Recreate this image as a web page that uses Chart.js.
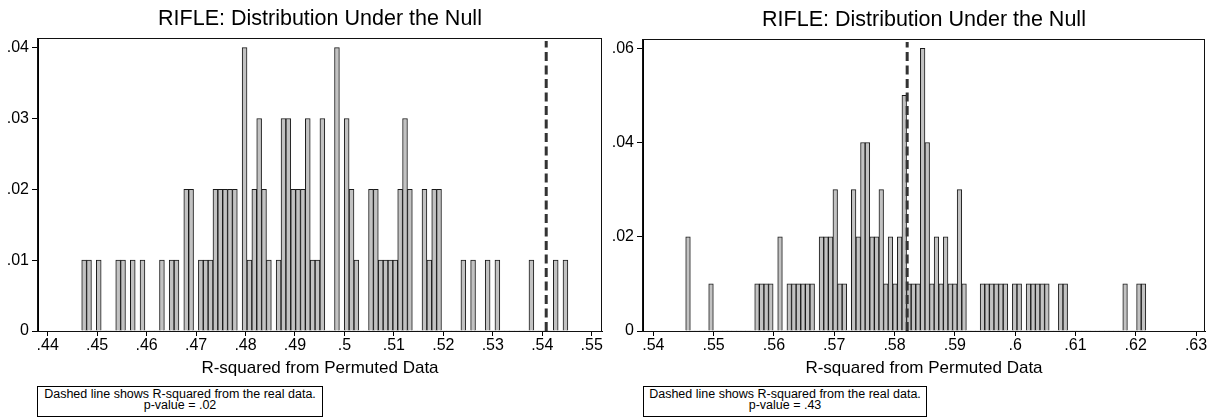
<!DOCTYPE html>
<html>
<head>
<meta charset="utf-8">
<script src="https://cdn.jsdelivr.net/npm/chart.js@4.4.1/dist/chart.umd.min.js"></script>
<style>
  body { margin: 0; background: #fff; width: 1212px; height: 417px; overflow: hidden; position: relative;
         font-family: Arial, "Liberation Sans", Helvetica, sans-serif; }
  canvas { position: absolute; top: 0; }
  #histA { left: 0; }
  #histB { left: 606px; }
  .note { position: absolute; top: 386px; height: 31px; box-sizing: border-box; border: 1px solid #000;
          padding-top: 2px; font-size: 12.5px; line-height: 10.5px; text-align: center; color: #000; }
</style>
</head>
<body>
<canvas id="histA" width="606" height="385"></canvas>
<canvas id="histB" width="606" height="385"></canvas>
<div class="note" id="noteA" style="left:37px;width:286px"></div>
<div class="note" id="noteB" style="left:643px;width:284px"></div>
<script>
const chartTitle = 'RIFLE: Distribution Under the Null';
const xTitle = 'R-squared from Permuted Data';
const noteText = 'Dashed line shows R-squared from the real data.';

// left panel: 100 bins, fraction of permutations per bin
const binStartA = 0.44688;
const binWidthA = 0.000983;
const fracA = [
  .01, .01, 0, .01, 0, 0, 0, .01, .01, 0,
  .01, 0, .01, 0, 0, 0, .01, 0, .01, .01,
  0, .02, .02, 0, .01, .01, .01, .02, .02, .02,
  .02, .02, 0, .04, .01, .02, .03, .02, .01, 0,
  .01, .03, .03, .02, .02, .02, .03, .01, .01, .03,
  0, 0, .04, 0, .03, .02, .01, 0, 0, .02,
  .02, .01, .01, .01, .01, .02, .03, .02, 0, 0,
  .02, .01, .02, .02, 0, 0, 0, 0, .01, 0,
  .01, 0, 0, .01, 0, .01, 0, 0, 0, 0,
  0, 0, .01, 0, 0, 0, 0, .01, 0, .01
];
const realA = 0.5408;
const pValueA = '.02';
const xTicksA = [.44, .45, .46, .47, .48, .49, .50, .51, .52, .53, .54, .55];
const xLabelsA = ['.44', '.45', '.46', '.47', '.48', '.49', '.5', '.51', '.52', '.53', '.54', '.55'];
const yTicksA = [0, .01, .02, .03, .04];
const yLabelsA = ['0', '.01', '.02', '.03', '.04'];

// right panel
const binStartB = 0.545373;
const binWidthB = 0.000763;
const fracB = [
  .02, 0, 0, 0, 0, .01, 0, 0, 0, 0,
  0, 0, 0, 0, 0, .01, .01, .01, .01, 0,
  .02, 0, .01, .01, .01, .01, .01, .01, 0, .02,
  .02, .02, .03, .01, .01, 0, .03, .02, .04, .04,
  .02, .02, .03, .01, .02, .01, .02, .05, .01, .01,
  .01, .06, .04, .01, .02, .01, .02, .01, .01, .03,
  .01, 0, 0, 0, .01, .01, .01, .01, .01, .01,
  0, .01, .01, 0, .01, .01, .01, .01, .01, 0,
  0, .01, .01, 0, 0, 0, 0, 0, 0, 0,
  0, 0, 0, 0, 0, .01, 0, 0, .01, .01
];
const realB = 0.5821;
const pValueB = '.43';
const xTicksB = [.54, .55, .56, .57, .58, .59, .60, .61, .62, .63];
const xLabelsB = ['.54', '.55', '.56', '.57', '.58', '.59', '.6', '.61', '.62', '.63'];
const yTicksB = [0, .02, .04, .06];
const yLabelsB = ['0', '.02', '.04', '.06'];

Chart.defaults.font.family = 'Arial, "Liberation Sans", Helvetica, sans-serif';
Chart.defaults.color = '#000';
Chart.defaults.animation = false;

// put the title over the plot region, not the whole canvas
const centerTitle = {
  id: 'centerTitle',
  afterLayout(chart) {
    const t = chart.titleBlock;
    if (!t) return;
    t.left = chart.chartArea.left;
    t.right = chart.chartArea.right;
    t.width = t.right - t.left;
  }
};

// dashed line at the real R-squared + plot region outline
const overlay = {
  id: 'overlay',
  afterDatasetsDraw(chart, args, opts) {
    const { ctx, chartArea: a, scales } = chart;
    const x = scales.x.getPixelForValue(opts.real);
    ctx.save();
    ctx.strokeStyle = '#333';
    ctx.lineWidth = 3;
    ctx.setLineDash([9, 4.5]);
    ctx.beginPath();
    ctx.moveTo(x, a.bottom);
    ctx.lineTo(x, a.top + 3);
    ctx.stroke();
    ctx.setLineDash([]);
    ctx.lineWidth = 1;
    ctx.strokeStyle = '#111';
    ctx.strokeRect(Math.round(a.left) - 0.5, Math.round(a.top) + 0.5,
                   Math.round(a.right - a.left), Math.round(a.bottom - a.top));
    ctx.restore();
  }
};

function makeHist(id, p) {
  const points = p.frac.map((v, i) => ({ x: p.start + p.width * (i + 0.5), y: v }));
  return new Chart(document.getElementById(id), {
    type: 'bar',
    data: {
      datasets: [{
        data: points,
        backgroundColor: '#c2c2c2',
        borderColor: '#1a1a1a',
        borderWidth: c => (c.raw && c.raw.y > 0 ? 1 : 0),
        barPercentage: 1,
        categoryPercentage: 1
      }]
    },
    options: {
      responsive: false,
      layout: { padding: { left: 0, right: p.padRight, top: 0, bottom: 0 } },
      plugins: {
        legend: { display: false },
        tooltip: { enabled: false },
        title: {
          display: true,
          text: chartTitle,
          font: { size: 21.5, weight: 'normal' },
          padding: p.titlePad
        },
        overlay: { real: p.real }
      },
      scales: {
        x: {
          type: 'linear',
          offset: false,
          min: p.xMin,
          max: p.xMax,
          afterFit: s => { s.height = 54; },
          afterBuildTicks: s => { s.ticks = p.xTicks.map(v => ({ value: v })); },
          grid: { display: true, drawOnChartArea: false, drawTicks: true, tickLength: 5, color: '#000', offset: false },
          border: { display: true, color: '#000', width: 1 },
          ticks: {
            autoSkip: false, maxRotation: 0, padding: 0,
            font: { size: 16 },
            callback: (v, i) => p.xLabels[i]
          },
          title: { display: true, text: xTitle, font: { size: 17 }, padding: { top: 0, bottom: 6.3 } }
        },
        y: {
          min: 0,
          max: p.yMax,
          afterFit: s => { s.width = p.yWidth; },
          afterBuildTicks: s => { s.ticks = p.yTicks.map(v => ({ value: v })); },
          grid: { display: true, drawOnChartArea: false, drawTicks: true, tickLength: 6, color: '#000' },
          border: { display: true, color: '#000', width: 1 },
          ticks: { padding: 3, font: { size: 16 }, callback: (v, i) => p.yLabels[i] }
        }
      }
    },
    plugins: [centerTitle, overlay]
  });
}

makeHist('histA', {
  frac: fracA, start: binStartA, width: binWidthA, real: realA,
  xTicks: xTicksA, xLabels: xLabelsA, yTicks: yTicksA, yLabels: yLabelsA,
  xMin: 0.43804, xMax: 0.55208, yMax: 0.04137,
  yWidth: 38, padRight: 4, titlePad: { top: 6.1, bottom: 6.1 }
});

makeHist('histB', {
  frac: fracB, start: binStartB, width: binWidthB, real: realB,
  xTicks: xTicksB, xLabels: xLabelsB, yTicks: yTicksB, yLabels: yLabelsB,
  xMin: 0.53829, xMax: 0.63149, yMax: 0.06197,
  yWidth: 37, padRight: 7, titlePad: { top: 7.1, bottom: 6.1 }
});

document.getElementById('noteA').innerHTML = noteText + '<br>p-value = ' + pValueA;
document.getElementById('noteB').innerHTML = noteText + '<br>p-value = ' + pValueB;
</script>
</body>
</html>
